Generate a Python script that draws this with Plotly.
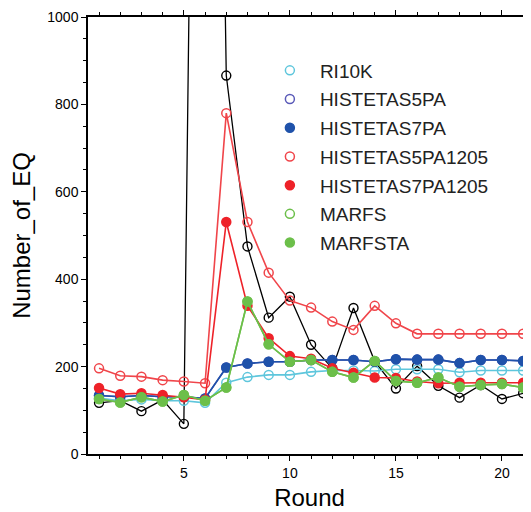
import plotly.graph_objects as go

rounds = list(range(1, 22))

other = [117, 122, 98, 124, 69, 4000, 866, 475, 312, 360, 250, 196, 334, 212, 150, 201, 156, 129, 158, 126, 139]
ri10k = [128, 122, 125, 122, 122, 117, 163, 176, 181, 181, 188, 191, 191, 190, 194, 194, 194, 187, 191, 191, 191]
histetas5pa = [134, 131, 134, 131, 131, 127, 198, 207, 211, 211, 215, 215, 215, 211, 217, 216, 216, 208, 215, 215, 213]
histetas7pa = [134, 131, 134, 131, 131, 127, 198, 207, 211, 211, 215, 215, 215, 211, 217, 216, 216, 208, 215, 215, 213]
histetas5pa1205 = [196, 179, 177, 169, 166, 162, 780, 531, 415, 351, 335, 303, 284, 339, 299, 275, 275, 275, 275, 275, 275]
histetas7pa1205 = [151, 137, 139, 135, 130, 124, 531, 339, 265, 224, 218, 196, 186, 175, 174, 166, 162, 163, 163, 163, 163]
marfs = [126, 118, 130, 120, 135, 122, 152, 349, 251, 211, 215, 188, 175, 213, 167, 163, 175, 154, 158, 160, 152]
marfsta = [126, 118, 130, 120, 135, 122, 152, 349, 251, 211, 215, 188, 175, 213, 167, 163, 175, 154, 158, 160, 152]

series = [
    ("RI10K", ri10k, "#5ec6dc", "circle-open", "#5ec6dc"),
    ("HISTETAS5PA", histetas5pa, "#5a5ab8", "circle-open", "#5a5ab8"),
    ("HISTETAS7PA", histetas7pa, "#1f52aa", "circle", "#1f52aa"),
    ("HISTETAS5PA1205", histetas5pa1205, "#f0454a", "circle-open", "#f0454a"),
    ("HISTETAS7PA1205", histetas7pa1205, "#ee2229", "circle", "#ee2229"),
    ("MARFS", marfs, "#6cbf4a", "circle-open", "#6cbf4a"),
    ("MARFSTA", marfsta, "#6cbf4a", "circle", "#6cbf4a"),
]

fig = go.Figure()

# unlabeled black series
fig.add_trace(go.Scatter(x=rounds, y=other, mode="lines+markers", showlegend=False,
                         line=dict(color="black", width=1.3),
                         marker=dict(symbol="circle-open", size=9, color="black", line=dict(width=1.4))))

for name, vals, col, sym, mcol in series:
    fig.add_trace(go.Scatter(x=rounds, y=vals, mode="lines", showlegend=False, legendgroup=name,
                             line=dict(color=col, width=1.6)))
    fig.add_trace(go.Scatter(x=rounds, y=vals, mode="markers", name=name, legendgroup=name,
                             marker=dict(symbol=sym, size=9, color=mcol, line=dict(width=1.5, color=mcol))))

fig.update_layout(
    width=523, height=504,
    margin=dict(l=80, r=0, t=9, b=58),
    plot_bgcolor="white", paper_bgcolor="white",
    font=dict(family="Liberation Sans", color="black", size=14),
    legend=dict(x=0.388, y=0.921, xanchor="left", yanchor="top",
                font=dict(size=19, color="#222222"), bgcolor="rgba(0,0,0,0)",
                tracegroupgap=1, itemwidth=50),
)
fig.update_xaxes(range=[0.48, 21.37], showline=True, linecolor="black", linewidth=1.5,
                 mirror="allticks", ticks="outside", ticklen=5, tickwidth=1, tickcolor="black",
                 tick0=0, dtick=5, showgrid=False, zeroline=False, automargin=False,
                 minor=dict(dtick=1, tick0=0, ticks="outside", ticklen=3, tickcolor="black", showgrid=False),
                 tickfont=dict(size=14),
                 title=dict(text="Round", font=dict(size=24), standoff=10))
fig.update_yaxes(range=[0, 1000], showline=True, linecolor="black", linewidth=1.5,
                 ticks="outside", ticklen=5, tickwidth=1, tickcolor="black",
                 tick0=0, dtick=200, showgrid=False, zeroline=False, automargin=False,
                 minor=dict(dtick=50, tick0=0, ticks="outside", ticklen=3, tickcolor="black", showgrid=False),
                 tickfont=dict(size=14),
                 title=dict(text="Number_of_EQ", font=dict(size=24), standoff=10))

fig.write_html("out.html")
